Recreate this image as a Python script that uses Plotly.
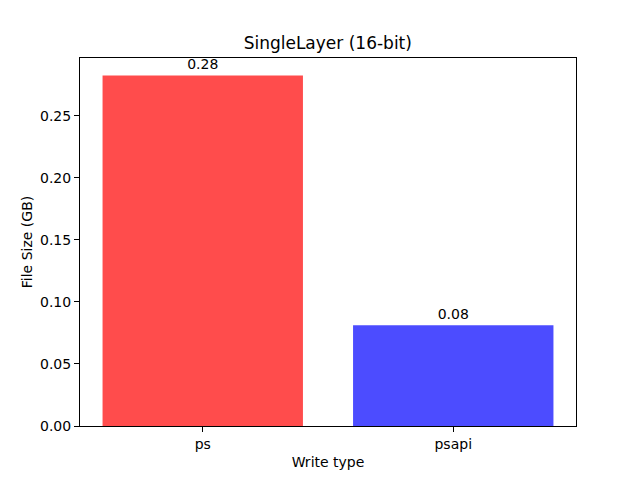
import plotly.graph_objects as go

# data
write_types = ["ps", "psapi"]
file_size_gb = [0.2826, 0.0812]
bar_colors = ["rgba(255,0,0,0.7)", "rgba(0,0,255,0.7)"]

FONT = "DejaVu Sans"

fig = go.Figure()
fig.add_trace(go.Bar(
    x=write_types,
    y=file_size_gb,
    width=0.8,
    marker=dict(color=bar_colors, line=dict(width=0)),
    text=[f"{v:.2f}" for v in file_size_gb],
    textposition="outside",
    textfont=dict(family=FONT, size=14, color="black"),
    cliponaxis=False,
))

axis_style = dict(
    showline=True, linecolor="black", linewidth=1, mirror=True,
    ticks="outside", ticklen=5, tickcolor="black",
    showgrid=False, zeroline=False,
    tickfont=dict(family=FONT, size=14, color="black"),
)

# page body has an 8px margin, so the figure is shrunk by that amount
fig.update_layout(
    width=632, height=472,
    margin=dict(l=72, r=64, t=50, b=45),
    paper_bgcolor="white", plot_bgcolor="white",
    showlegend=False,
    title=dict(text="SingleLayer (16-bit)", x=0.506, xanchor="center",
               y=0.926, yanchor="middle",
               font=dict(family=FONT, size=17, color="black")),
    xaxis=dict(axis_style, range=[-0.49, 1.49],
               title=dict(text="Write type", standoff=6,
                          font=dict(family=FONT, size=14, color="black"))),
    yaxis=dict(axis_style, range=[0, 0.2967], dtick=0.05, tickformat=".2f",
               title=dict(text="File Size (GB)", standoff=4,
                          font=dict(family=FONT, size=14, color="black"))),
)

fig.write_html("out.html")
